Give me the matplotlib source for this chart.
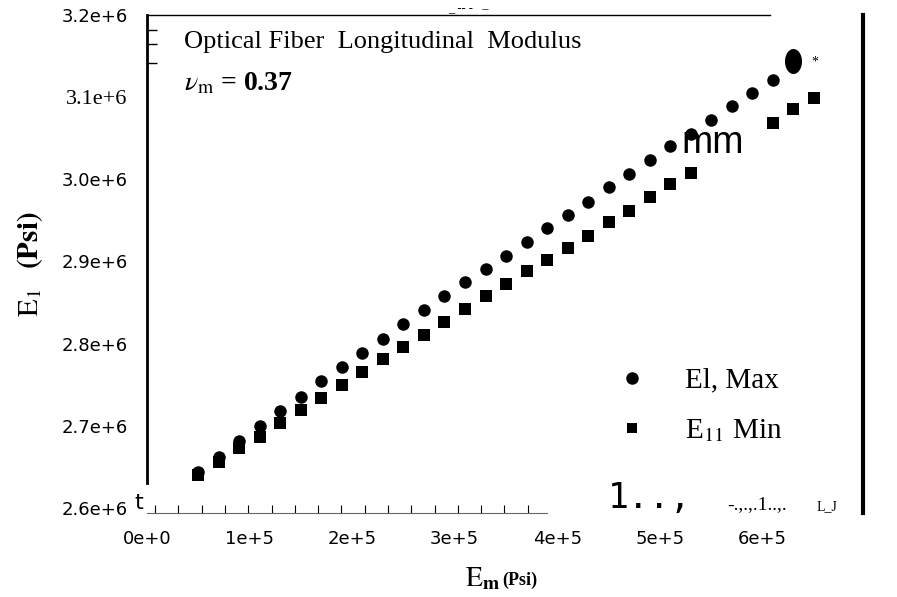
import numpy as np
import matplotlib
matplotlib.use('Agg')
from matplotlib import pyplot as plt
from matplotlib.path import Path
from matplotlib.lines import Line2D
from matplotlib.ticker import FixedLocator

plt.rcParams['mathtext.fontset'] = 'stix'

# matrix modulus (psi) and fiber longitudinal modulus (psi)
em_max = [0.5e5, 0.7e5, 0.9e5, 1.1e5, 1.3e5, 1.5e5, 1.7e5, 1.9e5, 2.1e5, 2.3e5,
          2.5e5, 2.7e5, 2.9e5, 3.1e5, 3.3e5, 3.5e5, 3.7e5, 3.9e5, 4.1e5, 4.3e5,
          4.5e5, 4.7e5, 4.9e5, 5.1e5, 5.3e5, 5.5e5, 5.7e5, 5.9e5, 6.1e5, 6.3e5]
e1_max = [2.644e6, 2.662e6, 2.681e6, 2.700e6, 2.718e6, 2.735e6, 2.754e6, 2.771e6, 2.789e6, 2.806e6,
          2.824e6, 2.841e6, 2.858e6, 2.875e6, 2.891e6, 2.907e6, 2.924e6, 2.941e6, 2.957e6, 2.973e6,
          2.991e6, 3.007e6, 3.024e6, 3.040e6, 3.055e6, 3.072e6, 3.089e6, 3.105e6, 3.121e6, 3.144e6]

em_min = [0.5e5, 0.7e5, 0.9e5, 1.1e5, 1.3e5, 1.5e5, 1.7e5, 1.9e5, 2.1e5, 2.3e5,
          2.5e5, 2.7e5, 2.9e5, 3.1e5, 3.3e5, 3.5e5, 3.7e5, 3.9e5, 4.1e5, 4.3e5,
          4.5e5, 4.7e5, 4.9e5, 5.1e5, 5.3e5, 6.1e5, 6.3e5, 6.5e5]
e1_min = [2.640e6, 2.656e6, 2.673e6, 2.687e6, 2.703e6, 2.719e6, 2.734e6, 2.750e6, 2.766e6, 2.781e6,
          2.796e6, 2.811e6, 2.826e6, 2.842e6, 2.858e6, 2.873e6, 2.888e6, 2.902e6, 2.917e6, 2.931e6,
          2.948e6, 2.962e6, 2.979e6, 2.994e6, 3.008e6, 3.069e6, 3.085e6, 3.099e6]

x_ticks = [0, 1e5, 2e5, 3e5, 4e5, 5e5, 6e5, 7e5]
x_labels = ['0e+0', '1e+5', '2e+5', '3e+5', '4e+5', '5e+5', '6e+5', '7e+5']
y_ticks = [2.6e6, 2.7e6, 2.8e6, 2.9e6, 3.0e6, 3.1e6, 3.2e6]
y_labels = ['2.6e+6', '2.7e+6', '2.8e+6', '2.9e+6', '3.0e+6', '3.1e+6', '3.2e+6']

serif = 'Liberation Serif'

fig = plt.figure(figsize=(8.97, 5.97), dpi=100)
ax = fig.add_axes([147/897, 1 - 513/597, 716/897, 498/597])
ax.set_xlim(0, 6.98e5)
ax.set_ylim(2.5939e6, 3.2e6)

# points
ax.plot(em_max[:-1], e1_max[:-1], 'o', color='black', ms=9, mew=0)
ax.plot(em_min, e1_min, 's', color='black', ms=8, mew=0)
# the last "max" point is smeared into a tall blob in the scan
t = np.linspace(0, 2*np.pi, 60)
blob = Path(np.column_stack([0.68*np.cos(t), np.sin(t)]))
ax.plot(em_max[-1:], e1_max[-1:], marker=blob, ls='none', color='black', ms=18, mew=0)

# spines look like a rough scan
ax.spines['left'].set_linewidth(2.0)
ax.spines['left'].set_bounds(2.63e6, 3.2e6)
ax.spines['top'].set_linewidth(1.0)
ax.spines['top'].set_bounds(0, 6.07e5)
ax.spines['right'].set_linewidth(3.0)
ax.spines['bottom'].set_linewidth(0.8)
ax.spines['bottom'].set_linestyle((0, (1, 1)))
ax.spines['bottom'].set_color('0.4')
ax.spines['bottom'].set_bounds(0, 3.9e5)

ax.xaxis.set_major_locator(FixedLocator(x_ticks))
ax.set_xticklabels(x_labels, fontsize=13)
ax.xaxis.set_minor_locator(FixedLocator(np.arange(0.08e5, 3.9e5, 0.227e5)))
ax.tick_params(axis='x', which='major', length=0, pad=12)
ax.tick_params(axis='x', which='minor', direction='in', length=6, width=0.8)

ax.yaxis.set_major_locator(FixedLocator(y_ticks))
ax.set_yticklabels(y_labels, fontsize=13)
ax.yaxis.set_minor_locator(FixedLocator([3.142e6, 3.165e6, 3.182e6]))
ax.tick_params(axis='y', which='major', length=0, pad=14)
ax.tick_params(axis='y', which='minor', direction='in', length=7, width=1.0)
lbl = ax.get_yticklabels()[5]
lbl.set_family(serif)
lbl.set_fontsize(16)

# axis titles
ax.set_ylabel(r'$\mathrm{E}_1$  $\mathbf{(Psi)}$', fontsize=21, labelpad=12)
fig.text(465/897, 1 - 578/597, r'$\mathrm{E}_{\mathbf{m}}$', fontsize=20, va='center')
fig.text(502/897, 1 - 580/597, '(Psi)', family=serif, weight='bold', fontsize=13, va='center')

# annotations inside the frame
ax.text(0.052, 0.945, 'Optical Fiber  Longitudinal  Modulus', transform=ax.transAxes,
        family=serif, fontsize=19, va='center')
ax.text(0.052, 0.862, r'$\nu_{\mathrm{m}}$ = 0.37', transform=ax.transAxes,
        family=serif, weight='bold', fontsize=20, va='center')
ax.text(0.79, 0.723, 'mm', transform=ax.transAxes, family='Liberation Sans',
        fontsize=27, va='baseline', ha='center')
ax.text(0.928, 0.905, '*', transform=ax.transAxes, family=serif, fontsize=10, va='center')
ax.text(0.42, 1.0, '_ -- -   ‒', transform=ax.transAxes, family=serif,
        fontsize=9, va='bottom')

# legend
handles = [Line2D([], [], marker='o', ls='none', color='black', ms=9, mew=0),
           Line2D([], [], marker='s', ls='none', color='black', ms=7, mew=0)]
ax.legend(handles, ['El, Max', r'E$_{11}$ Min'], loc='upper left',
          bbox_to_anchor=(0.6, 0.345), frameon=False, handletextpad=0.8,
          labelspacing=0.8, prop={'family': serif, 'size': 21})

# scan debris along the bottom edge
ax.text(0.643, -0.005, '1..,', transform=ax.transAxes, family='DejaVu Sans Mono',
        fontsize=25, va='bottom')
ax.text(0.81, 0.0, '-.,.,.1..,.', transform=ax.transAxes, family=serif,
        fontsize=14, va='bottom')
ax.text(0.935, 0.0, 'L_J', transform=ax.transAxes, family=serif,
        fontsize=10, va='bottom')
ax.text(-0.018, 0.0, 't', transform=ax.transAxes, family='DejaVu Sans',
        fontsize=16, va='bottom')

plt.savefig('out.png', dpi=100)
